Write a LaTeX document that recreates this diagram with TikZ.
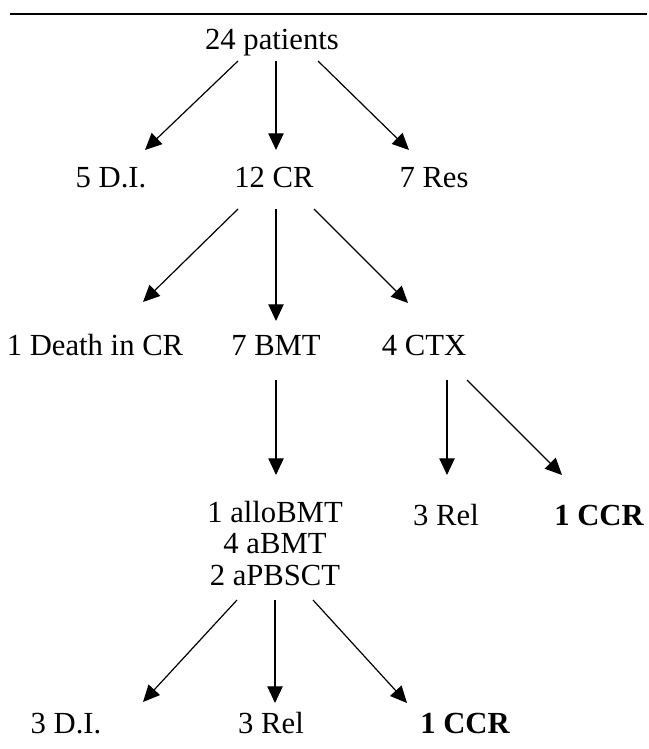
\documentclass[tikz,border=0pt]{standalone}
\usepackage{fontspec}
\setmainfont{Liberation Serif}
\usetikzlibrary{arrows.meta}
\tikzset{
    lbl/.style={inner sep=0pt, anchor=base, font=\fontsize{23}{23.5}\selectfont},
    arr/.style={-{Triangle[length=12.5pt,width=11.5pt]}, line width=0.9pt}
}
\begin{document}
\begin{tikzpicture}[x=0.75pt, y=-0.75pt]
            \useasboundingbox (0,0) rectangle (649,749);
            \draw[line width=1.5pt] (10,14) -- (647,14);
            \node[lbl] (pat) at (272,50) {24 patients};
            \node[lbl] (di1) at (111,187) {5 D.I.};
            \node[lbl] (cr) at (274,187) {12 CR};
            \node[lbl] (res) at (434,187) {7 Res};
            \node[lbl] (death) at (95,355) {1 Death in CR};
            \node[lbl] (bmt) at (276,355) {7 BMT};
            \node[lbl] (ctx) at (424,355) {4 CTX};
            \node[lbl, anchor=north, align=center] (tx) at (275,501) {1 alloBMT\\4 aBMT\\2 aPBSCT};
            \node[lbl] (rel1) at (446,525) {3 Rel};
            \node[lbl] (ccr1) at (599,525) {\bfseries 1 CCR};
            \node[lbl] (di2) at (66,733) {3 D.I.};
            \node[lbl] (rel2) at (271,733) {3 Rel};
            \node[lbl] (ccr2) at (465,733) {\bfseries 1 CCR};
            \draw[arr] ([shift={(-34,11)}]pat.base) -- ([shift={(34,-37)}]di1.base);
            \draw[arr] ([shift={(4,11)}]pat.base) -- ([shift={(2,-37)}]cr.base);
            \draw[arr] ([shift={(46,11)}]pat.base) -- ([shift={(-25,-37)}]res.base);
            \draw[arr] ([shift={(-36,22)}]cr.base) -- ([shift={(48,-53)}]death.base);
            \draw[arr] ([shift={(2,22)}]cr.base) -- ([shift={(0,-34)}]bmt.base);
            \draw[arr] ([shift={(40,22)}]cr.base) -- ([shift={(-16,-52)}]ctx.base);
            \draw[arr] ([shift={(0,25)}]bmt.base) -- ([shift={(1,-26)}]tx.north);
            \draw[arr] ([shift={(23,25)}]ctx.base) -- ([shift={(1,-50)}]rel1.base);
            \draw[arr] ([shift={(43,25)}]ctx.base) -- ([shift={(-37,-50)}]ccr1.base);
            \draw[arr] ([shift={(-38,99)}]tx.north) -- ([shift={(77,-31)}]di2.base);
            \draw[arr] ([shift={(0,99)}]tx.north) -- ([shift={(4,-30)}]rel2.base);
            \draw[arr] ([shift={(38,99)}]tx.north) -- ([shift={(-58,-30)}]ccr2.base);
\end{tikzpicture}
\end{document}
